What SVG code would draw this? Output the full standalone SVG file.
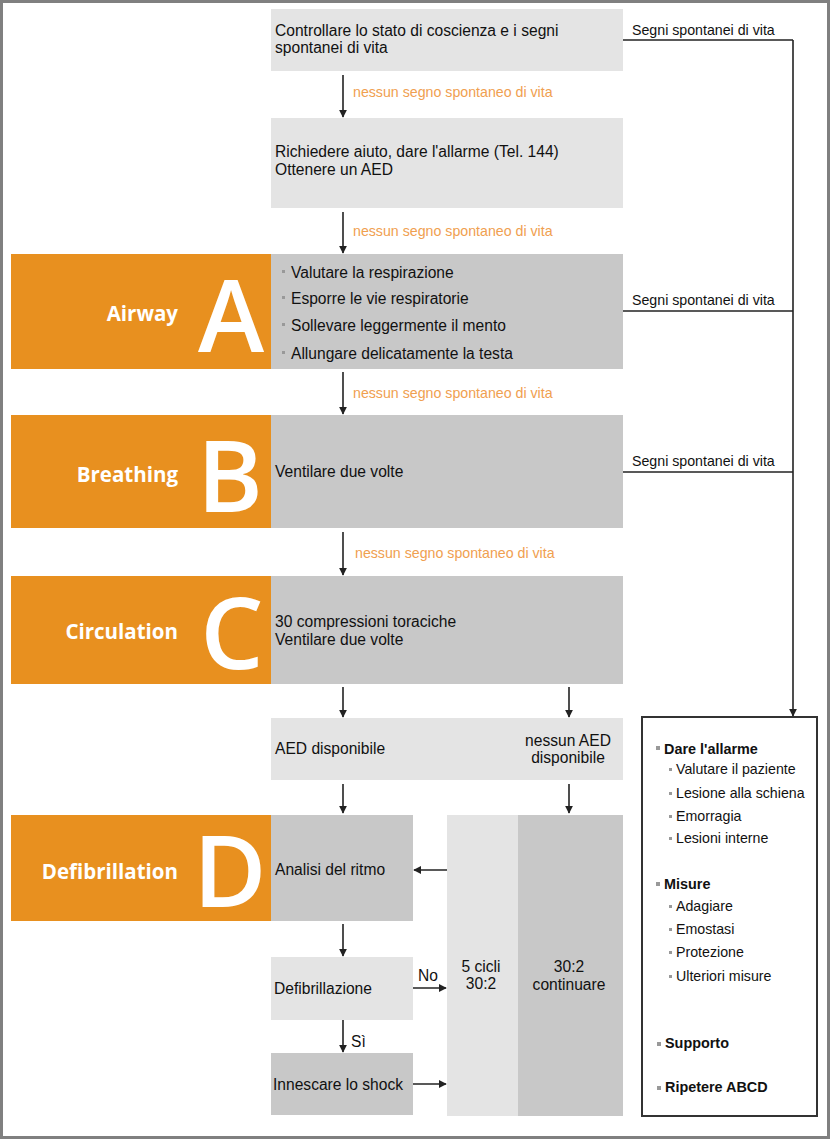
<svg xmlns="http://www.w3.org/2000/svg" width="830" height="1139" viewBox="0 0 830 1139">
<defs>
<marker id="ah" viewBox="0 0 10 10" refX="9" refY="5" markerWidth="8" markerHeight="8" markerUnits="userSpaceOnUse" orient="auto"><path d="M0,0 L10,5 L0,10 z" fill="#222"/></marker>
<style>
.t{font-family:"Liberation Sans",Arial,sans-serif;font-size:15.6px;fill:#111}
.lab{font-family:"Liberation Sans",Arial,sans-serif;font-size:14.2px;fill:#f0a050}
.seg{font-family:"Liberation Sans",Arial,sans-serif;font-size:14.2px;fill:#111}
.light{fill:#e4e4e4}
.dark{fill:#c8c8c8}
.or{fill:#e8901f}
.word{font-family:"Open Sans","Liberation Sans",sans-serif;font-size:20.5px;font-weight:bold;fill:#fff;text-anchor:end}
.big{font-family:"Open Sans","Liberation Sans",sans-serif;font-size:100px;font-weight:600;fill:#fff;text-anchor:middle}
.ln{stroke:#222;stroke-width:1.6;fill:none}
.arr{stroke:#222;stroke-width:1.6;fill:none;marker-end:url(#ah)}
.bul{fill:#999}
.pb{font-family:"Liberation Sans",Arial,sans-serif;font-size:14.4px;font-weight:bold;fill:#111}
.ps{font-family:"Liberation Sans",Arial,sans-serif;font-size:14.2px;fill:#111}
</style>
</defs>
<rect x="1.5" y="1.5" width="827" height="1136" fill="#fff" stroke="#808080" stroke-width="3"/>

<g id="check">
<rect class="light" x="271" y="9" width="352" height="62"/>
<text class="t" x="275" y="36">Controllare lo stato di coscienza e i segni</text>
<text class="t" x="275" y="53">spontanei di vita</text>
</g>
<g id="alarm">
<rect class="light" x="271" y="118" width="352" height="90"/>
<text class="t" x="275" y="157">Richiedere aiuto, dare l'allarme (Tel. 144)</text>
<text class="t" x="275" y="175">Ottenere un AED</text>
</g>
<g id="airway">
<rect class="or" x="11" y="254" width="260" height="115"/>
<text class="word" x="178" y="321">Airway</text>
<text class="big" x="231" y="352">A</text>
<rect class="dark" x="271" y="254" width="352" height="115"/>
<rect class="bul" x="282" y="270" width="3" height="3"/>
<text class="t" x="291" y="278">Valutare la respirazione</text>
<rect class="bul" x="282" y="296" width="3" height="3"/>
<text class="t" x="291" y="304">Esporre le vie respiratorie</text>
<rect class="bul" x="282" y="323" width="3" height="3"/>
<text class="t" x="291" y="331">Sollevare leggermente il mento</text>
<rect class="bul" x="282" y="351" width="3" height="3"/>
<text class="t" x="291" y="359">Allungare delicatamente la testa</text>
</g>
<g id="breathing">
<rect class="or" x="11" y="415" width="260" height="113"/>
<text class="word" x="178" y="482">Breathing</text>
<text class="big" x="230" y="512">B</text>
<rect class="dark" x="271" y="415" width="352" height="113"/>
<text class="t" x="275" y="477">Ventilare due volte</text>
</g>
<g id="circulation">
<rect class="or" x="11" y="576" width="260" height="108"/>
<text class="word" x="178" y="639">Circulation</text>
<text class="big" x="232" y="669">C</text>
<rect class="dark" x="271" y="576" width="352" height="108"/>
<text class="t" x="275" y="627">30 compressioni toraciche</text>
<text class="t" x="275" y="645">Ventilare due volte</text>
</g>
<g id="aed">
<rect class="light" x="271" y="718" width="352" height="62"/>
<text class="t" x="275" y="754">AED disponibile</text>
<text class="t" x="568" y="746" text-anchor="middle">nessun AED</text>
<text class="t" x="568" y="763" text-anchor="middle">disponibile</text>
</g>
<g id="defib">
<rect class="or" x="11" y="815" width="260" height="106"/>
<text class="word" x="178" y="879">Defibrillation</text>
<text class="big" x="230" y="907">D</text>
<rect class="dark" x="271" y="815" width="142" height="106"/>
<text class="t" x="275" y="875">Analisi del ritmo</text>
</g>
<g id="defibq">
<rect class="light" x="271" y="957" width="142" height="63"/>
<text class="t" x="274" y="994">Defibrillazione</text>
</g>
<g id="shock">
<rect class="dark" x="271" y="1053" width="142" height="62"/>
<text class="t" x="273" y="1090">Innescare lo shock</text>
</g>
<g id="cycles">
<rect class="light" x="447" y="815" width="71" height="301"/>
<text class="t" x="481" y="972" text-anchor="middle">5 cicli</text>
<text class="t" x="481" y="989" text-anchor="middle">30:2</text>
</g>
<g id="continue">
<rect class="dark" x="518" y="815" width="105" height="301"/>
<text class="t" x="569" y="972" text-anchor="middle">30:2</text>
<text class="t" x="569" y="990" text-anchor="middle">continuare</text>
</g>
<g id="panel">
<rect x="642" y="717" width="175" height="399" fill="#fff" stroke="#333" stroke-width="2"/>
<rect class="bul" x="656" y="746" width="4" height="4"/>
<text class="pb" x="664" y="754">Dare l'allarme</text>
<rect class="bul" x="669" y="768" width="3" height="3"/>
<text class="ps" x="676" y="774">Valutare il paziente</text>
<rect class="bul" x="669" y="792" width="3" height="3"/>
<text class="ps" x="676" y="798">Lesione alla schiena</text>
<rect class="bul" x="669" y="815" width="3" height="3"/>
<text class="ps" x="676" y="821">Emorragia</text>
<rect class="bul" x="669" y="837" width="3" height="3"/>
<text class="ps" x="676" y="843">Lesioni interne</text>
<rect class="bul" x="656" y="882" width="4" height="4"/>
<text class="pb" x="664" y="889">Misure</text>
<rect class="bul" x="669" y="905" width="3" height="3"/>
<text class="ps" x="676" y="911">Adagiare</text>
<rect class="bul" x="669" y="928" width="3" height="3"/>
<text class="ps" x="676" y="934">Emostasi</text>
<rect class="bul" x="669" y="951" width="3" height="3"/>
<text class="ps" x="676" y="957">Protezione</text>
<rect class="bul" x="669" y="975" width="3" height="3"/>
<text class="ps" x="676" y="981">Ulteriori misure</text>
<rect class="bul" x="657" y="1042" width="4" height="4"/>
<text class="pb" x="665" y="1048">Supporto</text>
<rect class="bul" x="657" y="1086" width="4" height="4"/>
<text class="pb" x="665" y="1092">Ripetere ABCD</text>
</g>

<g id="connectors">
<path class="arr" d="M343,75 V117"/>
<text class="lab" x="353" y="97">nessun segno spontaneo di vita</text>
<path class="arr" d="M343,212 V253"/>
<text class="lab" x="353" y="236">nessun segno spontaneo di vita</text>
<path class="arr" d="M343,372 V414"/>
<text class="lab" x="353" y="398">nessun segno spontaneo di vita</text>
<path class="arr" d="M343,532 V575"/>
<text class="lab" x="355" y="558">nessun segno spontaneo di vita</text>
<path class="arr" d="M343,687 V717"/>
<path class="arr" d="M569,687 V717"/>
<path class="arr" d="M343,784 V813"/>
<path class="arr" d="M569,784 V813"/>
<path class="arr" d="M447,870 H414"/>
<path class="arr" d="M343,924 V956"/>
<path class="arr" d="M413,988 H446"/>
<text class="t" x="418" y="981">No</text>
<path class="arr" d="M343,1020 V1052"/>
<text class="t" x="351" y="1047">Sì</text>
<path class="arr" d="M413,1084 H446"/>
<path class="ln" d="M623,40 H793"/>
<path class="ln" d="M623,311 H793"/>
<path class="ln" d="M623,472 H793"/>
<path class="arr" d="M793,40 V716"/>
<text class="seg" x="632" y="35">Segni spontanei di vita</text>
<text class="seg" x="632" y="305">Segni spontanei di vita</text>
<text class="seg" x="632" y="466">Segni spontanei di vita</text>
</g>
</svg>
